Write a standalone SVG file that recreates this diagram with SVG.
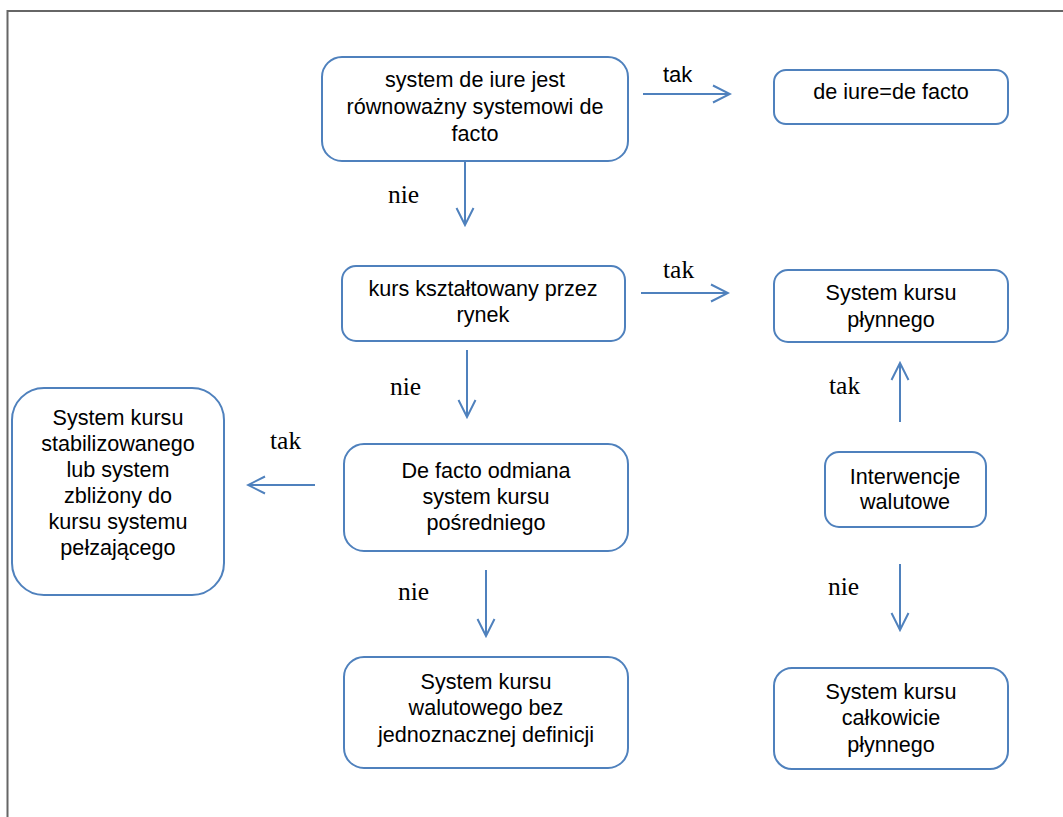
<svg xmlns="http://www.w3.org/2000/svg" width="1063" height="817" viewBox="0 0 1063 817">
<style>
.box{fill:#fff;stroke:#4f81bd;stroke-width:2}
.t{font-family:"Liberation Sans",Arial,sans-serif;font-size:21.6px;fill:#000;text-anchor:middle}
.lbl{font-family:"Liberation Serif","Times New Roman",serif;font-size:25.5px;fill:#000}
.lbls{font-family:"Liberation Sans",Arial,sans-serif;font-size:22px;fill:#000}
.c{stroke:#4f81bd;stroke-width:2;fill:none}
</style>
<defs>
<marker id="ah" viewBox="0 0 20 20" refX="18" refY="10" markerWidth="20" markerHeight="20" markerUnits="userSpaceOnUse" orient="auto">
<path d="M1,1.5 L18,10 L1,18.5" fill="none" stroke="#4f81bd" stroke-width="2"/>
</marker>
</defs>
<rect width="1063" height="817" fill="#fff"/>
<g id="frame">
<path d="M7.5,817 V11 H1063" fill="none" stroke="#666" stroke-width="2"/>
</g>
<g id="connectors">
<line class="c" x1="643" y1="94" x2="730" y2="94" marker-end="url(#ah)"/>
<line class="c" x1="465" y1="161" x2="465" y2="225" marker-end="url(#ah)"/>
<line class="c" x1="641" y1="293" x2="728" y2="293" marker-end="url(#ah)"/>
<line class="c" x1="467" y1="350" x2="467" y2="417" marker-end="url(#ah)"/>
<line class="c" x1="315" y1="485" x2="248" y2="485" marker-end="url(#ah)"/>
<line class="c" x1="486" y1="570" x2="486" y2="636" marker-end="url(#ah)"/>
<line class="c" x1="900" y1="422" x2="900" y2="363" marker-end="url(#ah)"/>
<line class="c" x1="900" y1="564" x2="900" y2="630" marker-end="url(#ah)"/>
<text class="lbls" x="663" y="82">tak</text>
<text class="lbl" x="388" y="203">nie</text>
<text class="lbl" x="663" y="278">tak</text>
<text class="lbl" x="390" y="395">nie</text>
<text class="lbl" x="270" y="449">tak</text>
<text class="lbl" x="398" y="600">nie</text>
<text class="lbl" x="829" y="394">tak</text>
<text class="lbl" x="828" y="595">nie</text>
</g>
<g id="n1">
<rect class="box" x="322" y="57" width="306" height="104" rx="20"/>
<text class="t" x="475" y="87">system de iure jest</text>
<text class="t" x="475" y="114">równoważny systemowi de</text>
<text class="t" x="475" y="141">facto</text>
</g>
<g id="n2">
<rect class="box" x="774" y="70" width="234" height="54" rx="12"/>
<text class="t" x="891" y="99">de iure=de facto</text>
</g>
<g id="n3">
<rect class="box" x="342" y="266" width="283" height="75" rx="14"/>
<text class="t" x="483" y="296">kurs kształtowany przez</text>
<text class="t" x="483" y="322">rynek</text>
</g>
<g id="n4">
<rect class="box" x="774" y="270" width="234" height="72" rx="14"/>
<text class="t" x="891" y="300">System kursu</text>
<text class="t" x="891" y="327">płynnego</text>
</g>
<g id="n5">
<rect class="box" x="12" y="388" width="212" height="207" rx="32"/>
<text class="t" x="118" y="425">System kursu</text>
<text class="t" x="118" y="451">stabilizowanego</text>
<text class="t" x="118" y="477">lub system</text>
<text class="t" x="118" y="503">zbliżony do</text>
<text class="t" x="118" y="529">kursu systemu</text>
<text class="t" x="118" y="555">pełzającego</text>
</g>
<g id="n6">
<rect class="box" x="344" y="444" width="284" height="107" rx="20"/>
<text class="t" x="486" y="478">De facto odmiana</text>
<text class="t" x="486" y="504">system kursu</text>
<text class="t" x="486" y="530">pośredniego</text>
</g>
<g id="n7">
<rect class="box" x="825" y="452" width="161" height="75" rx="14"/>
<text class="t" x="905" y="484">Interwencje</text>
<text class="t" x="905" y="509">walutowe</text>
</g>
<g id="n8">
<rect class="box" x="344" y="657" width="284" height="111" rx="20"/>
<text class="t" x="486" y="689">System kursu</text>
<text class="t" x="486" y="715">walutowego bez</text>
<text class="t" x="486" y="742">jednoznacznej definicji</text>
</g>
<g id="n9">
<rect class="box" x="774" y="668" width="234" height="101" rx="18"/>
<text class="t" x="891" y="699">System kursu</text>
<text class="t" x="891" y="725">całkowicie</text>
<text class="t" x="891" y="752">płynnego</text>
</g>
</svg>
